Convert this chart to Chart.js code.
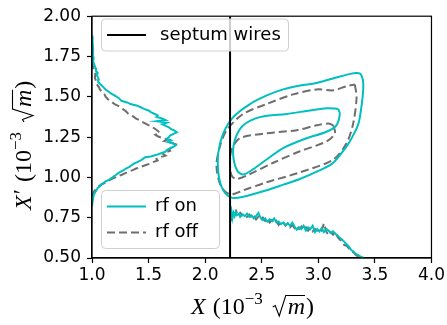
<!DOCTYPE html>
<html>
<head>
<meta charset="utf-8">
<script src="https://cdn.jsdelivr.net/npm/chart.js@4.4.1/dist/chart.umd.min.js"></script>
<style>
  html, body { margin: 0; padding: 0; background: #fff; }
</style>
</head>
<body>
<canvas id="phase" width="447" height="325"></canvas>
<script>
// axis ticks
const xTicks = [1.0, 1.5, 2.0, 2.5, 3.0, 3.5, 4.0];
const yTicks = [0.50, 0.75, 1.00, 1.25, 1.50, 1.75, 2.00];

// septum position
const septumX = 2.22;

// phase space contours [X, X']
const rfOnOuter = [[3.31,1.647],[3.37,1.643],[3.395,1.60],[3.397,1.55],[3.385,1.46],[3.355,1.334],[3.30,1.25],[3.25,1.193],
  [3.13,1.09],[3.0,1.04],[2.837,0.99],[2.69,0.955],[2.543,0.92],[2.337,0.88],[2.24,0.873],[2.18,0.90],[2.14,0.95],
  [2.116,1.031],[2.116,1.152],[2.16,1.273],[2.248,1.374],[2.396,1.455],[2.55,1.51],[2.69,1.546],[2.84,1.57],
  [2.985,1.586],[3.19,1.626],[3.31,1.647]];
const rfOnInner = [[3.176,1.425],[3.19,1.394],[3.16,1.323],[3.073,1.283],[2.897,1.243],[2.69,1.182],[2.543,1.111],
  [2.425,1.051],[2.337,1.018],[2.285,1.04],[2.248,1.132],[2.263,1.233],[2.337,1.323],[2.484,1.374],[2.72,1.394],
  [2.926,1.415],[3.073,1.429],[3.176,1.425]];
const rfOffOuter = [[3.323,1.576],[3.338,1.495],[3.308,1.334],[3.25,1.213],[3.132,1.111],[2.837,1.031],[2.543,0.97],
  [2.337,0.92],[2.219,0.895],[2.14,0.945],[2.10,1.071],[2.131,1.193],[2.19,1.293],[2.337,1.394],[2.543,1.455],
  [2.778,1.515],[2.985,1.546],[3.132,1.54],[3.25,1.566],[3.323,1.576]];
const rfOffInner = [[3.132,1.323],[3.147,1.273],[3.073,1.223],[2.837,1.162],[2.602,1.091],[2.396,1.021],[2.278,0.99],
  [2.234,1.011],[2.219,1.091],[2.234,1.172],[2.307,1.243],[2.543,1.273],[2.808,1.293],[2.985,1.323],[3.088,1.334],
  [3.132,1.323]];

// projection onto X' (drawn from the left edge), pairs of [X', counts]
const rfOnProfileY = [[1.88,1.00],[1.84,1.005],[1.80,1.01],[1.76,1.008],[1.74,1.015],[1.72,1.01],[1.70,1.02],[1.68,1.03],
  [1.66,1.035],[1.65,1.05],[1.63,1.045],[1.61,1.06],[1.59,1.055],[1.575,1.08],[1.56,1.10],[1.545,1.12],[1.53,1.15],
  [1.52,1.17],[1.505,1.21],[1.49,1.24],[1.475,1.26],[1.465,1.31],[1.455,1.34],[1.445,1.40],[1.435,1.43],[1.425,1.46],
  [1.415,1.50],[1.405,1.52],[1.395,1.55],[1.385,1.58],[1.375,1.57],[1.365,1.62],[1.355,1.65],[1.348,1.57],[1.34,1.66],
  [1.33,1.62],[1.32,1.65],[1.31,1.68],[1.30,1.70],[1.29,1.73],[1.28,1.75],[1.27,1.72],[1.26,1.69],[1.25,1.68],
  [1.24,1.66],[1.23,1.70],[1.22,1.67],[1.21,1.72],[1.20,1.74],[1.19,1.72],[1.18,1.69],[1.17,1.66],[1.16,1.65],
  [1.15,1.61],[1.14,1.57],[1.13,1.52],[1.125,1.47],[1.115,1.45],[1.105,1.43],[1.095,1.40],[1.085,1.37],[1.075,1.35],
  [1.065,1.33],[1.055,1.30],[1.045,1.28],[1.035,1.25],[1.025,1.23],[1.015,1.21],[1.005,1.19],[0.995,1.17],[0.985,1.15],
  [0.975,1.12],[0.965,1.10],[0.955,1.08],[0.945,1.07],[0.935,1.05],[0.92,1.04],[0.905,1.025],[0.89,1.015],[0.87,1.01],
  [0.85,1.005],[0.82,1.00]];
const rfOffProfileY = [[1.72,1.00],[1.70,1.005],[1.68,1.01],[1.66,1.02],[1.64,1.03],[1.62,1.025],[1.60,1.035],[1.58,1.04],
  [1.56,1.06],[1.545,1.07],[1.53,1.09],[1.515,1.11],[1.50,1.12],[1.485,1.14],[1.47,1.17],[1.455,1.20],[1.44,1.24],
  [1.425,1.27],[1.41,1.30],[1.395,1.32],[1.38,1.36],[1.365,1.39],[1.35,1.43],[1.335,1.47],[1.32,1.51],[1.305,1.55],
  [1.29,1.58],[1.275,1.60],[1.265,1.56],[1.255,1.58],[1.245,1.62],[1.235,1.67],[1.225,1.64],[1.215,1.70],[1.205,1.74],
  [1.195,1.72],[1.185,1.70],[1.175,1.68],[1.165,1.69],[1.155,1.65],[1.145,1.63],[1.135,1.65],[1.125,1.60],[1.115,1.57],
  [1.105,1.58],[1.095,1.54],[1.085,1.51],[1.075,1.47],[1.065,1.43],[1.055,1.39],[1.045,1.36],[1.035,1.32],[1.025,1.29],
  [1.015,1.26],[1.005,1.22],[0.995,1.19],[0.985,1.16],[0.975,1.13],[0.965,1.11],[0.955,1.08],[0.945,1.06],[0.93,1.04],
  [0.915,1.02],[0.90,1.01],[0.88,1.00]];

// projection onto X beyond the septum, pairs of [X, counts]
const rfOnProfileX = [[2.225,0.79],[2.23,0.80],[2.24,0.745],[2.25,0.78],[2.26,0.76],[2.27,0.785],[2.28,0.765],[2.30,0.775],
  [2.31,0.755],[2.33,0.77],[2.35,0.76],[2.37,0.775],[2.39,0.755],[2.41,0.765],[2.43,0.745],[2.45,0.76],[2.47,0.78],
  [2.49,0.75],[2.51,0.735],[2.53,0.745],[2.55,0.725],[2.57,0.74],[2.59,0.73],[2.61,0.745],[2.63,0.72],[2.65,0.725],
  [2.67,0.71],[2.69,0.72],[2.71,0.705],[2.73,0.715],[2.75,0.70],[2.77,0.72],[2.79,0.695],[2.81,0.675],[2.83,0.69],
  [2.85,0.68],[2.87,0.70],[2.89,0.67],[2.91,0.69],[2.93,0.68],[2.95,0.70],[2.97,0.66],[2.99,0.68],[3.01,0.665],
  [3.03,0.685],[3.05,0.66],[3.07,0.68],[3.09,0.67],[3.11,0.655],[3.13,0.665],[3.15,0.65],[3.17,0.64],[3.19,0.625],
  [3.21,0.615],[3.23,0.60],[3.25,0.585],[3.27,0.57],[3.29,0.55],[3.31,0.54],[3.33,0.525],[3.35,0.52],[3.37,0.51],
  [3.40,0.50]];
const rfOffProfileX = [[2.225,0.78],[2.235,0.72],[2.245,0.795],[2.26,0.77],[2.275,0.79],[2.29,0.76],[2.31,0.78],[2.33,0.765],
  [2.35,0.775],[2.37,0.755],[2.39,0.77],[2.41,0.75],[2.43,0.765],[2.45,0.74],[2.47,0.755],[2.49,0.735],[2.51,0.75],
  [2.53,0.73],[2.55,0.745],[2.57,0.72],[2.59,0.735],[2.61,0.715],[2.63,0.73],[2.65,0.705],[2.67,0.725],[2.69,0.72],
  [2.71,0.70],[2.73,0.715],[2.75,0.69],[2.77,0.705],[2.79,0.685],[2.81,0.70],[2.83,0.68],[2.85,0.695],[2.87,0.675],
  [2.89,0.69],[2.91,0.67],[2.93,0.685],[2.95,0.665],[2.97,0.68],[2.99,0.67],[3.01,0.685],[3.03,0.67],[3.05,0.715],
  [3.07,0.665],[3.09,0.64],[3.11,0.66],[3.13,0.645],[3.15,0.665],[3.17,0.63],[3.19,0.615],[3.21,0.60],[3.23,0.58],
  [3.25,0.575],[3.27,0.56],[3.29,0.545],[3.31,0.535],[3.33,0.52],[3.35,0.51],[3.37,0.50]];

const CYAN = '#00bfbf';
const GRAY = '#6e6e6e';
const DASH = [8, 4];

const toXY = arr => arr.map(p => ({ x: p[0], y: p[1] }));
const swapXY = arr => arr.map(p => ({ x: p[1], y: p[0] }));

function onLine(data, label, tension = 0) {
  return { label, data, borderColor: CYAN, borderWidth: 2, tension };
}
function offLine(data, label, tension = 0) {
  return { label, data, borderColor: GRAY, borderWidth: 2, borderDash: DASH, tension };
}

const datasets = [
  { label: 'septum wires', data: [{ x: septumX, y: 0.5 }, { x: septumX, y: 2.0 }], borderColor: '#000', borderWidth: 2 },
  onLine(toXY(rfOnOuter), 'rf on', 0.3),
  onLine(toXY(rfOnInner), undefined, 0.3),
  offLine(toXY(rfOffOuter), 'rf off', 0.3),
  offLine(toXY(rfOffInner), undefined, 0.3),
  onLine(swapXY(rfOnProfileY)),
  offLine(swapXY(rfOffProfileY)),
  onLine(toXY(rfOnProfileX)),
  offLine(toXY(rfOffProfileX)),
];

// matplotlib-style legend boxes drawn over the data
const legendBoxes = [
  { labels: ['septum wires'], x: 101.5, y: 19, w: 187, h: 32, textX: 160 },
  { labels: ['rf on', 'rf off'], x: 101.5, y: 190.5, w: 118, h: 58, textX: 155 },
];

function drawLegends(chart) {
  const ctx = chart.ctx;
  ctx.save();
  legendBoxes.forEach(box => {
    ctx.beginPath();
    ctx.roundRect(box.x, box.y, box.w, box.h, 4);
    ctx.fillStyle = 'rgba(255,255,255,0.8)';
    ctx.fill();
    ctx.strokeStyle = '#cfcfcf';
    ctx.lineWidth = 1;
    ctx.stroke();
    const rowH = (box.h - 6) / box.labels.length;
    box.labels.forEach((lab, i) => {
      const ds = chart.data.datasets.find(d => d.label === lab);
      const cy = box.y + 3 + rowH * (i + 0.5);
      ctx.beginPath();
      ctx.setLineDash(ds.borderDash || []);
      ctx.strokeStyle = ds.borderColor;
      ctx.lineWidth = ds.borderWidth;
      ctx.moveTo(107, cy);
      ctx.lineTo(146, cy);
      ctx.stroke();
      ctx.setLineDash([]);
      ctx.fillStyle = '#000';
      ctx.font = '18px "DejaVu Sans"';
      ctx.textBaseline = 'middle';
      ctx.textAlign = 'left';
      ctx.fillText(lab, box.textX, cy);
    });
  });
  ctx.restore();
}

// axis label "X (10^-3 sqrt(m))" with mixed italic / upright pieces
function drawMathLabel(ctx, prime) {
  const size = 24;
  const up = `${size}px "Liberation Serif"`;
  const it = `italic ${size}px "Liberation Serif"`;
  const sup = `${Math.round(size * 0.7)}px "Liberation Serif"`;
  let cx = 0;
  const put = (txt, font, dy = 0) => {
    ctx.font = font;
    ctx.fillText(txt, cx, dy);
    cx += ctx.measureText(txt).width;
  };
  put('X', it);
  if (prime) { cx += 1; put('\u2032', up, -2); }
  cx += 7;
  put('(', up);
  put('10', up);
  put('\u22123', sup, -10);
  cx += 10;
  // radical sign with an overline spanning the m
  ctx.font = it;
  const mW = ctx.measureText('m').width;
  ctx.beginPath();
  ctx.lineWidth = 1.1;
  ctx.strokeStyle = '#000';
  ctx.moveTo(cx, -7);
  ctx.lineTo(cx + 2.5, -8.5);
  ctx.lineTo(cx + 6.5, 2);
  ctx.lineTo(cx + 13, -18.5);
  ctx.lineTo(cx + 15 + mW, -18.5);
  ctx.stroke();
  cx += 15;
  put('m', it);
  cx += 1;
  put(')', up);
}

const framePlugin = {
  id: 'frameAndTitles',
  afterDatasetsDraw(chart) {
    const { ctx, chartArea: a } = chart;
    ctx.save();
    ctx.strokeStyle = '#000';
    ctx.lineWidth = 1.2;
    ctx.strokeRect(a.left, a.top, a.right - a.left, a.bottom - a.top);
    ctx.restore();
  },
  afterDraw(chart) {
    const ctx = chart.ctx;
    ctx.save();
    ctx.fillStyle = '#000';
    ctx.textBaseline = 'alphabetic';
    ctx.textAlign = 'left';
    ctx.save();
    ctx.translate(191, 314);
    drawMathLabel(ctx, false);
    ctx.restore();
    ctx.save();
    ctx.translate(31, 210);
    ctx.rotate(-Math.PI / 2);
    drawMathLabel(ctx, true);
    ctx.restore();
    ctx.restore();
    drawLegends(chart);
  }
};

const tickFont = { family: 'DejaVu Sans', size: 17 };

new Chart(document.getElementById('phase'), {
  type: 'scatter',
  data: { datasets: datasets.map(d => Object.assign({ showLine: true, pointRadius: 0, fill: false }, d)) },
  options: {
    responsive: false,
    animation: false,
    events: [],
    layout: { padding: { left: 0, right: 15, top: 10, bottom: 0 } },
    plugins: { legend: { display: false }, tooltip: { enabled: false } },
    scales: {
      x: {
        type: 'linear', min: 1.0, max: 4.0,
        afterBuildTicks: s => { s.ticks = xTicks.map(v => ({ value: v })); },
        afterFit: s => { s.height = 67; },
        ticks: { font: tickFont, color: '#000', padding: 2, maxRotation: 0, callback: v => v.toFixed(1) },
        grid: { drawOnChartArea: false, drawTicks: true, tickLength: 5, color: '#000', tickWidth: 1.2 },
        border: { display: true, color: '#000', width: 1.2 },
      },
      y: {
        type: 'linear', min: 0.5, max: 2.0,
        afterBuildTicks: s => { s.ticks = yTicks.map(v => ({ value: v })); },
        afterFit: s => { s.width = 92; },
        ticks: { font: tickFont, color: '#000', padding: 6, callback: v => v.toFixed(2) },
        grid: { drawOnChartArea: false, drawTicks: true, tickLength: 5, color: '#000', tickWidth: 1.2 },
        border: { display: true, color: '#000', width: 1.2 },
      },
    },
  },
  plugins: [framePlugin],
});
</script>
</body>
</html>
